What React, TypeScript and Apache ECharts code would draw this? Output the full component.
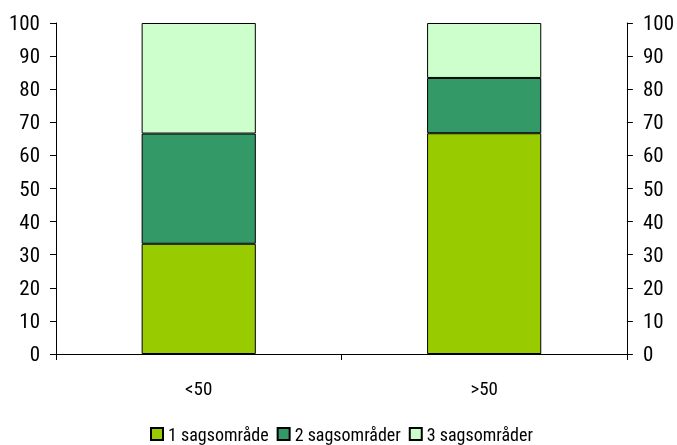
import React, { useEffect, useRef } from "react";
import * as echarts from "echarts";

const categories = ["<50", ">50"];
const seriesNames = ["1 sagsområde", "2 sagsområder", "3 sagsområder"];
const values1 = [33.3, 66.7];
const values2 = [33.3, 16.7];
const values3 = [33.4, 16.6];
const yTicks = [0, 100, 10];
const colors = ["#99CC00", "#339966", "#CCFFCC"];

const FONT = "'Roboto Condensed', 'Liberation Sans Narrow', sans-serif";

export default function App() {
  const ref = useRef<HTMLDivElement>(null);
  useEffect(() => {
    const chart = echarts.init(ref.current!, null, { renderer: "svg" });
    const data = [values1, values2, values3];
    const axisLine = { show: true, lineStyle: { color: "#000", width: 1 } };
    chart.setOption({
      animation: false,
      textStyle: { fontFamily: FONT },
      grid: { left: 56, right: 47, top: 23, bottom: 91 },
      legend: {
        top: 425,
        left: 150,
        padding: 0,
        itemWidth: 12,
        itemHeight: 12,
        itemGap: 8,
        textStyle: { fontFamily: FONT, fontSize: 18, color: "#000" },
        data: seriesNames.map((n) => ({ name: n, icon: "rect" })),
      },
      xAxis: [
        {
          type: "category",
          data: categories,
          boundaryGap: true,
          axisLine,
          axisTick: { show: true, length: 6, alignWithLabel: false, lineStyle: { color: "#000" } },
          axisLabel: { color: "#000", fontFamily: FONT, fontSize: 19, margin: 25 },
        },
        {
          type: "category",
          data: categories,
          position: "top",
          axisLine,
          axisTick: { show: false },
          axisLabel: { show: false },
        },
      ],
      yAxis: [0, 1].map((i) => ({
        type: "value",
        min: yTicks[0],
        max: yTicks[1],
        interval: yTicks[2],
        position: i === 0 ? "left" : "right",
        axisLine,
        axisTick: { show: true, length: 6, lineStyle: { color: "#000" } },
        axisLabel: { color: "#000", fontFamily: FONT, fontSize: 21, margin: 16 },
        splitLine: { show: false },
      })),
      series: seriesNames.map((name, i) => ({
        name,
        type: "bar",
        stack: "s",
        barWidth: "40%",
        data: data[i],
        itemStyle: { color: colors[i], borderColor: "#000", borderWidth: 1 },
      })),
    });
    return () => chart.dispose();
  }, []);
  return (
    <div
      ref={ref}
      style={{ position: "fixed", left: 0, top: 0, width: 677, height: 445 }}
    />
  );
}
